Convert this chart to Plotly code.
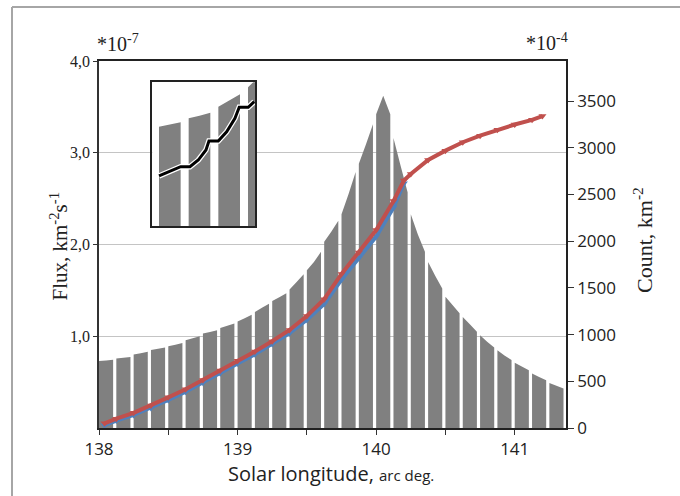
import plotly.graph_objects as go

# ---------------- data ----------------
# Flux bars (units of 1e-7 km^-2 s^-1): start longitude of each bin, and bar-top heights
bin_start = [138.0 + 0.125 * k for k in range(27)]
bin_width = 0.102
flux_left = [0.73, 0.757, 0.80, 0.85, 0.89, 0.957, 1.03, 1.09, 1.16, 1.265, 1.385, 1.51, 1.72,
             2.03, 2.33, 2.88, 3.42, 3.16, 2.33, 1.81, 1.43, 1.21, 1.01, 0.848, 0.71, 0.595, 0.49]
flux_mid = [0.737, 0.766, 0.815, 0.863, 0.908, 0.978, 1.047, 1.115, 1.197, 1.31, 1.425, 1.59, 1.81,
            2.14, 2.55, 3.09, 3.62, 2.86, 2.11, 1.66, 1.34, 1.13, 0.94, 0.79, 0.67, 0.555, 0.46]
flux_right = [0.745, 0.775, 0.83, 0.877, 0.927, 1.0, 1.065, 1.14, 1.235, 1.355, 1.47, 1.675, 1.92,
              2.26, 2.79, 3.31, 3.42, 2.57, 1.92, 1.52, 1.25, 1.05, 0.877, 0.74, 0.63, 0.52, 0.43]

# Cumulative count (km^-2, x1e-4)
count_lon = [138.04, 138.125, 138.25, 138.375, 138.5, 138.625, 138.75, 138.875, 139.0, 139.125,
             139.25, 139.375, 139.5, 139.625, 139.75, 139.875, 140.0, 140.125, 140.2, 140.25,
             140.375, 140.5, 140.625, 140.75, 140.875, 141.0, 141.125, 141.2]
count_red = [50, 100, 162, 240, 328, 415, 515, 615, 720, 820, 930, 1050, 1200, 1380, 1650, 1880,
             2120, 2430, 2650, 2720, 2870, 2970, 3060, 3130, 3195, 3250, 3300, 3340]
count_blue_lon = count_lon[:19]
count_blue = [30, 80, 140, 215, 300, 388, 485, 585, 690, 790, 900, 1015, 1160, 1330, 1590, 1820,
              2050, 2360, 2620]

# Inset (zoomed detail, relative units)
inset_start = [0.225, 1.225, 2.225, 3.225]
inset_width = 0.73
inset_left = [0.691, 0.749, 0.830, 0.965]
inset_mid = [0.706, 0.768, 0.873, 1.04]
inset_right = [0.722, 0.788, 0.916, 1.12]
inset_line_x = [0.226, 0.707, 0.956, 1.269, 1.549, 1.808, 1.909, 2.222, 2.505, 2.785, 2.929,
                3.232, 3.347, 3.434]
inset_line_y = [0.348, 0.390, 0.413, 0.413, 0.459, 0.529, 0.592, 0.592, 0.656, 0.749, 0.826,
                0.826, 0.847, 0.865]

x_ticks = [138, 139, 140, 141]
x_ticktext = ["138", "139", "140", "141"]
flux_ticks = [1, 2, 3, 4]
flux_ticktext = ["1,0", "2,0", "3,0", "4,0"]
count_ticks = [0, 500, 1000, 1500, 2000, 2500, 3000, 3500]


def bar_polygons(starts, width, left, mid, right):
    xs, ys = [], []
    for s, l, m, r in zip(starts, left, mid, right):
        xs += [s, s, s + width / 2, s + width, s + width, s, None]
        ys += [0, l, m, r, 0, 0, None]
    return xs, ys


GRAY = "#808080"
RED = "#c0504d"
BLUE = "#4f81bd"
SERIF = "Liberation Serif"
SANS = "Open Sans"

fig = go.Figure()

bx, by = bar_polygons(bin_start, bin_width, flux_left, flux_mid, flux_right)
fig.add_trace(go.Scatter(x=bx, y=by, fill="toself", fillcolor=GRAY, mode="lines",
                         line=dict(width=0, color=GRAY), hoverinfo="skip", xaxis="x", yaxis="y"))

fig.add_trace(go.Scatter(x=count_blue_lon, y=count_blue, mode="lines+markers",
                         line=dict(color=BLUE, width=4),
                         marker=dict(symbol="triangle-down", size=7, color=BLUE),
                         xaxis="x", yaxis="y2"))
fig.add_trace(go.Scatter(x=count_lon, y=count_red, mode="lines+markers",
                         line=dict(color=RED, width=4),
                         marker=dict(symbol="triangle-down", size=7, color=RED),
                         xaxis="x", yaxis="y2"))

ix, iy = bar_polygons(inset_start, inset_width, inset_left, inset_mid, inset_right)
fig.add_trace(go.Scatter(x=ix, y=iy, fill="toself", fillcolor=GRAY, mode="lines",
                         line=dict(width=0, color=GRAY), hoverinfo="skip", xaxis="x3", yaxis="y3"))
fig.add_trace(go.Scatter(x=inset_line_x, y=inset_line_y, mode="lines",
                         line=dict(color="white", width=5.5), xaxis="x3", yaxis="y3"))
fig.add_trace(go.Scatter(x=inset_line_x, y=inset_line_y, mode="lines",
                         line=dict(color="black", width=3), xaxis="x3", yaxis="y3"))

L, R, T, B = 99, 114, 61, 68
W, H = 680, 496
pw, ph = W - L - R, H - T - B


def px(x):
    return (x - L) / pw


def py(y):
    return (H - B - y) / ph


fig.update_layout(
    width=W, height=H,
    margin=dict(l=L, r=R, t=T, b=B, autoexpand=False),
    paper_bgcolor="white", plot_bgcolor="white",
    showlegend=False,
    xaxis=dict(range=[138, 141.37], tickvals=x_ticks, ticktext=x_ticktext,
               ticks="outside", ticklen=5, tickcolor="#333", tickwidth=1,
               minor=dict(ticks="outside", dtick=0.5, tick0=138, ticklen=5,
                          tickcolor="#333", showgrid=False),
               showline=True, linecolor="#222", linewidth=1.5, mirror=True,
               showgrid=False, zeroline=False,
               tickfont=dict(family=SANS, size=17, color="#222")),
    yaxis=dict(range=[0, 4], tickvals=flux_ticks, ticktext=flux_ticktext,
               ticks="outside", ticklen=4, tickcolor="#333",
               showline=True, linecolor="#333", linewidth=1.5,
               showgrid=True, gridcolor="#c4c4c4", gridwidth=1, zeroline=False,
               tickfont=dict(family=SERIF, size=16, color="#222")),
    yaxis2=dict(range=[0, 3930], tickvals=count_ticks, overlaying="y", side="right",
                ticks="outside", ticklen=6, tickcolor="#333",
                showline=True, linecolor="#222", linewidth=1.5,
                showgrid=False, zeroline=False,
                tickfont=dict(family=SANS, size=17, color="#222")),
    xaxis3=dict(domain=[px(152.3), px(255)], anchor="y3", range=[0, 3.46],
                showticklabels=False, ticks="", showgrid=False, zeroline=False,
                showline=True, mirror=True, linecolor="#222", linewidth=1.5),
    yaxis3=dict(domain=[py(226), py(82.3)], anchor="x3", range=[0, 1],
                showticklabels=False, ticks="", showgrid=False, zeroline=False,
                showline=True, mirror=True, linecolor="#222", linewidth=1.5),
)

fig.add_annotation(text="*10<sup>-7</sup>", xref="paper", yref="paper",
                   x=px(95), y=py(57), xanchor="left", yanchor="bottom", showarrow=False,
                   font=dict(family=SERIF, size=20, color="#222"))
fig.add_annotation(text="*10<sup>-4</sup>", xref="paper", yref="paper",
                   x=px(570), y=py(56), xanchor="right", yanchor="bottom", showarrow=False,
                   font=dict(family=SERIF, size=20, color="#222"))
fig.add_annotation(text="Flux, km<sup>-2</sup>s<sup>-1</sup>", xref="paper", yref="paper",
                   x=px(43), y=py(246), textangle=-90, showarrow=False,
                   font=dict(family=SERIF, size=21, color="#222"))
fig.add_annotation(text="Count, km<sup>-2</sup>", xref="paper", yref="paper",
                   x=px(659), y=py(240), textangle=-90, showarrow=False,
                   font=dict(family=SERIF, size=22, color="#222"))
fig.add_annotation(text="Solar longitude, <span style='font-size:15px'>arc deg.</span>",
                   xref="paper", yref="paper", x=px(331), y=py(458), yanchor="top",
                   showarrow=False,
                   font=dict(family=SANS, size=20, color="#222"))

# outer frame (left and top edges visible)
fig.add_shape(type="line", xref="paper", yref="paper", x0=px(12), x1=px(12), y0=py(7), y1=py(500),
              line=dict(color="#a6a6a6", width=2))
fig.add_shape(type="line", xref="paper", yref="paper", x0=px(12), x1=px(682), y0=py(7), y1=py(7),
              line=dict(color="#a6a6a6", width=2))

fig.write_html("out.html", config={"displayModeBar": False},
               post_script="document.body.style.margin='0px';")
